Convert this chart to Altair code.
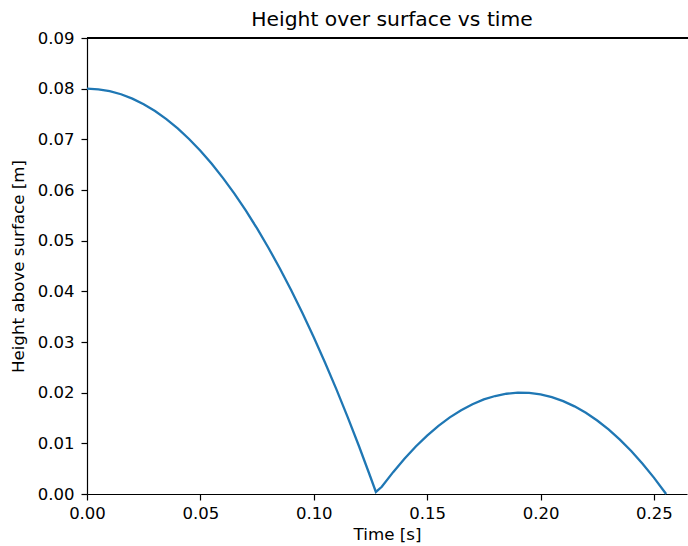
import altair as alt
import pandas as pd

time_s = [0.000, 0.005, 0.010, 0.015, 0.020, 0.025, 0.030, 0.035, 0.040, 0.045,
          0.050, 0.055, 0.060, 0.065, 0.070, 0.075, 0.080, 0.085, 0.090, 0.095,
          0.100, 0.105, 0.110, 0.115, 0.120, 0.125, 0.1274,
          0.130, 0.135, 0.140, 0.145, 0.150, 0.155, 0.160, 0.165, 0.170, 0.175,
          0.180, 0.185, 0.190, 0.195, 0.200, 0.205, 0.210, 0.215, 0.220, 0.225,
          0.230, 0.235, 0.240, 0.245, 0.250, 0.2554]
height_m = [0.08000, 0.07988, 0.07951, 0.07890, 0.07804, 0.07693, 0.07559, 0.07399, 0.07215, 0.07007,
            0.06774, 0.06516, 0.06234, 0.05928, 0.05597, 0.05241, 0.04861, 0.04456, 0.04027, 0.03573,
            0.03095, 0.02592, 0.02065, 0.01513, 0.00937, 0.00336, 0.00040,
            0.00142, 0.00431, 0.00696, 0.00937, 0.01153, 0.01345, 0.01512, 0.01654, 0.01772, 0.01866,
            0.01934, 0.01979, 0.01999, 0.01994, 0.01965, 0.01911, 0.01833, 0.01730, 0.01603, 0.01451,
            0.01275, 0.01074, 0.00849, 0.00599, 0.00324, 0.00000]

x_ticks = [0.00, 0.05, 0.10, 0.15, 0.20, 0.25]
y_ticks = [0.00, 0.01, 0.02, 0.03, 0.04, 0.05, 0.06, 0.07, 0.08, 0.09]

df = pd.DataFrame({"t": time_s, "h": height_m, "i": list(range(len(time_s)))})

FONT = "DejaVu Sans"

line = alt.Chart(df).mark_line(color="#1f77b4", strokeWidth=2.3).encode(
    x=alt.X("t:Q", title="Time [s]",
            scale=alt.Scale(domain=[0, 0.2646], nice=False, zero=False),
            axis=alt.Axis(values=x_ticks, format=".2f", grid=False,
                          domainColor="black", domainWidth=1.2,
                          tickColor="black", tickSize=6, tickWidth=1.2,
                          labelColor="black", labelFontSize=16.5, labelFont=FONT,
                          labelPadding=5, labelFlush=False,
                          titleFont=FONT, titleFontSize=16.7, titleFontWeight="normal",
                          titleColor="black", titlePadding=5)),
    y=alt.Y("h:Q", title="Height above surface [m]",
            scale=alt.Scale(domain=[0, 0.09], nice=False),
            axis=alt.Axis(values=y_ticks, format=".2f", grid=False,
                          domainColor="black", domainWidth=1.2,
                          tickColor="black", tickSize=6, tickWidth=1.2,
                          labelColor="black", labelFontSize=16.5, labelFont=FONT,
                          labelPadding=7, labelFlush=False,
                          titleFont=FONT, titleFontSize=16.7, titleFontWeight="normal",
                          titleColor="black", titlePadding=10)),
    order="i:Q",
)

# top spine of the frame (the right spine lies outside the cropped picture)
top_spine = alt.Chart(df).mark_rule(color="black", strokeWidth=1.2).encode(
    x=alt.value(0), x2=alt.value(601), y=alt.value(0)
)

chart = alt.layer(line, top_spine).properties(
    width=600,
    height=456,
    title=alt.TitleParams("Height over surface vs time", font=FONT, fontSize=20.3,
                          fontWeight="normal", color="black", offset=0, dx=5),
    autosize=alt.AutoSizeParams(type="none"),
    padding={"left": 87, "top": 38, "right": 1, "bottom": 52},
    background="white",
).configure_view(strokeOpacity=0)

chart.save("out.html", embed_options={"renderer": "svg", "actions": False})
